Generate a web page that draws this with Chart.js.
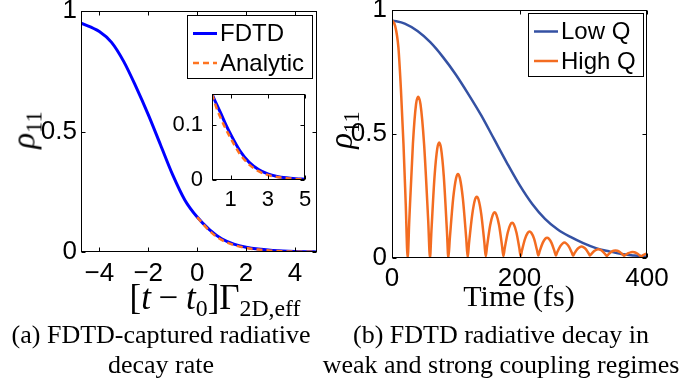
<!DOCTYPE html>
<html lang="en">
<head>
<meta charset="UTF-8">
<title>rho11 decay</title>
<script src="https://cdn.jsdelivr.net/npm/chart.js"></script>
<style>
  body { margin: 0; background: #fff; }
  #fig { position: relative; width: 700px; height: 386px; overflow: hidden; color: #000; font-family: 'Liberation Serif', serif; }
  canvas { position: absolute; }
  .lbl { position: absolute; white-space: nowrap; transform: translate(-50%, -50%); line-height: 1; }
  .lbl sub { font-size: 68%; vertical-align: -0.32em; line-height: 0; }
  .op { margin: 0 0.22em; }
  .rho { font-size: 33px; transform: translate(-50%, -50%) rotate(-90deg); }
  .cap { position: absolute; width: 360px; text-align: center; font-size: 26px; line-height: 30px; white-space: nowrap; }
</style>
</head>
<body>
<div id="fig">
    <canvas id="chart-a" width="330" height="290" style="left:0;top:0"></canvas>
    <canvas id="chart-b" width="370" height="290" style="left:330px;top:0"></canvas>
    <canvas id="chart-inset" width="150" height="125" style="left:165px;top:84px"></canvas>

    <div class="lbl rho" style="left:24px;top:130px"><i>ρ</i><sub>11</sub></div>
    <div class="lbl rho" style="left:341px;top:130px"><i>ρ</i><sub>11</sub></div>
    <div class="lbl" style="left:215px;top:297px;font-size:35px">[<i>t</i><span class="op">−</span><i>t</i><sub>0</sub>]Γ<sub>2D,eff</sub></div>
    <div class="lbl" style="left:519px;top:296px;font-size:30px">Time (fs)</div>

    <div class="cap" style="left:-19px;top:320px">(a) FDTD-captured radiative<br>decay rate</div>
    <div class="cap" style="left:321px;top:320px">(b) FDTD radiative decay in<br>weak and strong coupling regimes</div>
</div>

<script>
    // panel (a): normalised time vs rho11
    const xMain = [-4.75, -4, -3.5, -3, -2.5, -2, -1.5, -1, -0.5, 0, 0.5, 1, 1.5, 2, 2.5, 3, 3.5, 4, 4.5, 4.9];
    const fdtdMain = [0.95, 0.915, 0.87, 0.79, 0.685, 0.57, 0.445, 0.32, 0.215, 0.145, 0.093, 0.055, 0.033, 0.02, 0.012, 0.007, 0.004, 0.002, 0.001, 0.0005];
    const xAnalytic = [0, 0.5, 1, 1.5, 2, 2.5, 3, 3.5, 4, 4.5, 4.9];
    const analyticMain = [0.145, 0.088, 0.05, 0.029, 0.017, 0.01, 0.0055, 0.003, 0.0015, 0.0008, 0.0004];

    // inset of panel (a)
    const xInset = [0, 0.25, 0.5, 0.75, 1, 1.5, 2, 2.5, 3, 3.5, 4, 4.5, 5];
    const fdtdInset = [0.156, 0.137, 0.119, 0.1, 0.083, 0.053, 0.032, 0.019, 0.011, 0.0065, 0.004, 0.0025, 0.0015];
    const analyticInset = [0.156, 0.13, 0.11, 0.092, 0.076, 0.047, 0.028, 0.016, 0.009, 0.0055, 0.0033, 0.002, 0.0012];

    // panel (b): time in fs
    const tLow = [0, 20, 40, 60, 80, 100, 120, 140, 160, 180, 200, 220, 240, 260, 280, 300, 320, 340, 360, 380, 400];
    const lowQ = [0.958, 0.945, 0.915, 0.87, 0.81, 0.74, 0.66, 0.575, 0.48, 0.385, 0.295, 0.218, 0.158, 0.115, 0.085, 0.06, 0.04, 0.027, 0.016, 0.01, 0.005];
    const tHigh = [0, 5, 10, 14, 18, 21.5, 24.6,
        27.1, 32.8, 37.7, 41, 44.7, 50.3, 56.8, 59.6,
        61.8, 66.8, 71.1, 74, 76.9, 81.2, 86.2, 88.4,
        90.7, 96, 100.5, 103.5, 106.5, 111.1, 116.4, 118.7,
        120.8, 125.9, 130.1, 133, 135.8, 140, 144.9, 147,
        149.1, 154, 158.2, 161, 163.7, 167.9, 172.6, 174.7,
        176.8, 181.6, 185.7, 188.5, 191.2, 195.2, 199.8, 201.8,
        203.9, 208.8, 213, 215.8, 218.5, 222.7, 227.4, 229.5,
        231.6, 236.4, 240.5, 243.3, 246, 250.2, 254.9, 257,
        259, 263.8, 267.8, 270.5, 273.2, 277.3, 282, 284,
        286, 290.7, 294.6, 297.3, 300, 304, 308.6, 310.6,
        312.6, 317.2, 321.1, 323.7, 326.3, 330.3, 334.8, 336.8,
        338.9, 343.7, 347.8, 350.5, 353.2, 357.3, 362, 364,
        366, 370.8, 374.8, 377.5, 380.1, 384, 388.6, 390.6,
        393, 397, 400];
    const highQ = [0.958, 0.935, 0.85, 0.68, 0.46, 0.22, 0,
        0.15, 0.46, 0.62, 0.65, 0.62, 0.46, 0.15, 0,
        0.107, 0.331, 0.443, 0.466, 0.443, 0.331, 0.107, 0,
        0.078, 0.241, 0.322, 0.339, 0.322, 0.241, 0.08, 0.003,
        0.059, 0.176, 0.235, 0.247, 0.235, 0.177, 0.062, 0.006,
        0.047, 0.132, 0.175, 0.184, 0.175, 0.133, 0.049, 0.008,
        0.039, 0.103, 0.135, 0.142, 0.135, 0.103, 0.039, 0.008,
        0.031, 0.078, 0.102, 0.107, 0.102, 0.079, 0.032, 0.01,
        0.027, 0.061, 0.078, 0.082, 0.078, 0.061, 0.027, 0.01,
        0.022, 0.047, 0.059, 0.062, 0.059, 0.047, 0.022, 0.01,
        0.018, 0.036, 0.044, 0.046, 0.044, 0.036, 0.018, 0.01,
        0.016, 0.028, 0.034, 0.035, 0.034, 0.027, 0.014, 0.008,
        0.013, 0.024, 0.029, 0.03, 0.029, 0.024, 0.014, 0.009,
        0.012, 0.02, 0.023, 0.024, 0.023, 0.019, 0.01, 0.006,
        0.01, 0.016, 0.018];

    const xTicksA = [-4, -2, 0, 2, 4];
    const xTickLabelsA = ['−4', '−2', '0', '2', '4'];
    const yTicks = [0, 0.5, 1];
    const yTickLabels = ['0', '0.5', '1'];
    const xTicksInset = [1, 3, 5];
    const yTicksInset = [0, 0.1];
    const yTickLabelsInset = ['0', '0.1'];
    const xTicksB = [0, 200, 400];

    const pts = (xs, ys) => xs.map((x, i) => ({ x: x, y: ys[i] }));

    Chart.defaults.color = '#000';
    Chart.defaults.font.family = '"Liberation Sans", Arial, sans-serif';
    Chart.defaults.font.size = 26;

    // white plot area, box frame and inward ticks like the original
    const frame = {
        id: 'frame',
        beforeDraw(chart) {
            const a = chart.chartArea, ctx = chart.ctx;
            ctx.save();
            ctx.fillStyle = '#fff';
            ctx.fillRect(a.left, a.top, a.right - a.left, a.bottom - a.top);
            ctx.restore();
        },
        afterDraw(chart) {
            const a = chart.chartArea, ctx = chart.ctx;
            const L = Math.round(a.left) + 0.5, R = Math.round(a.right) - 0.5;
            const T = Math.round(a.top) + 0.5, B = Math.round(a.bottom) - 0.5;
            ctx.save();
            ctx.strokeStyle = '#000';
            ctx.lineWidth = 1;
            ctx.strokeRect(L, T, R - L, B - T);
            ctx.beginPath();
            chart.scales.x.ticks.forEach(t => {
                const p = Math.round(chart.scales.x.getPixelForValue(t.value)) + 0.5;
                ctx.moveTo(p, B); ctx.lineTo(p, B - 4);
                ctx.moveTo(p, T); ctx.lineTo(p, T + 4);
            });
            chart.scales.y.ticks.forEach(t => {
                const p = Math.round(chart.scales.y.getPixelForValue(t.value)) + 0.5;
                ctx.moveTo(L, p); ctx.lineTo(L + 4, p);
                ctx.moveTo(R, p); ctx.lineTo(R - 4, p);
            });
            ctx.stroke();
            ctx.restore();
        }
    };

    // boxed legend in the top right corner of the plot area
    const boxLegend = {
        id: 'boxLegend',
        afterDraw(chart, args, opts) {
            if (!opts.show) return;
            const ctx = chart.ctx, a = chart.chartArea;
            const sets = chart.data.datasets;
            ctx.save();
            ctx.font = '24px "Liberation Sans", Arial, sans-serif';
            let tw = 0;
            sets.forEach(d => { tw = Math.max(tw, ctx.measureText(d.label).width); });
            const w = Math.round(6 + 24 + 3 + tw + opts.padRight), h = 63;
            const x0 = Math.round(a.right - opts.right - w), y0 = Math.round(a.top + opts.top);
            ctx.fillStyle = '#fff';
            ctx.fillRect(x0, y0, w, h);
            ctx.strokeStyle = '#000';
            ctx.lineWidth = 1;
            ctx.strokeRect(x0 + 0.5, y0 + 0.5, w, h);
            sets.forEach((d, i) => {
                const cy = y0 + 18.5 + i * 29.5;
                ctx.beginPath();
                ctx.setLineDash(d.borderDash || []);
                ctx.strokeStyle = d.borderColor;
                ctx.lineWidth = d.borderWidth;
                ctx.moveTo(x0 + 6, cy);
                ctx.lineTo(x0 + 30, cy);
                ctx.stroke();
                ctx.setLineDash([]);
                ctx.fillStyle = '#000';
                ctx.textBaseline = 'middle';
                ctx.fillText(d.label, x0 + 33, cy + 1);
            });
            ctx.restore();
        }
    };

    function axisX(min, max, ticks, labels, height, pad, size) {
        return {
            type: 'linear', min: min, max: max,
            grid: { display: false, drawTicks: false }, border: { display: false },
            afterBuildTicks: s => { s.ticks = ticks.map(v => ({ value: v })); },
            afterFit: s => { s.height = height; s.paddingLeft = 0; s.paddingRight = 0; },
            ticks: { padding: pad, maxRotation: 0, autoSkip: false, font: { size: size },
                callback: (v) => labels ? labels[ticks.indexOf(v)] : String(v) }
        };
    }
    function axisY(min, max, ticks, labels, width, pad, size) {
        return {
            type: 'linear', min: min, max: max,
            grid: { display: false, drawTicks: false }, border: { display: false },
            afterBuildTicks: s => { s.ticks = ticks.map(v => ({ value: v })); },
            afterFit: s => { s.width = width; s.paddingTop = 0; s.paddingBottom = 0; },
            ticks: { padding: pad, autoSkip: false, font: { size: size },
                callback: (v) => labels[ticks.indexOf(v)] }
        };
    }

    const common = {
        responsive: false,
        animation: false,
        devicePixelRatio: 1,
        elements: { point: { radius: 0 }, line: { cubicInterpolationMode: 'monotone' } },
        plugins: { legend: { display: false }, tooltip: { enabled: false } }
    };

    new Chart(document.getElementById('chart-a'), {
        type: 'line',
        data: {
            datasets: [{
                label: 'FDTD',
                data: pts(xMain, fdtdMain),
                borderColor: '#0000ff',
                borderWidth: 3,
                order: 2
            }, {
                label: 'Analytic',
                data: pts(xAnalytic, analyticMain),
                borderColor: '#ff7420',
                borderWidth: 2.5,
                borderDash: [6, 4],
                order: 1
            }]
        },
        options: {
            ...common,
            layout: { padding: { top: 11, right: 13, left: 0, bottom: 0 } },
            scales: {
                x: axisX(-4.75, 4.9, xTicksA, xTickLabelsA, 38, 6, 26),
                y: axisY(0, 1, yTicks, yTickLabels, 81, 4, 26)
            },
            plugins: { ...common.plugins, boxLegend: { show: true, right: 5, top: 4, padRight: 8 } }
        },
        plugins: [frame, boxLegend]
    });

    new Chart(document.getElementById('chart-inset'), {
        type: 'line',
        data: {
            datasets: [{
                label: 'FDTD',
                data: pts(xInset, fdtdInset),
                borderColor: '#0000ff',
                borderWidth: 3,
                order: 2
            }, {
                label: 'Analytic',
                data: pts(xInset, analyticInset),
                borderColor: '#ff7420',
                borderWidth: 2.5,
                borderDash: [6, 4],
                order: 1
            }]
        },
        options: {
            ...common,
            layout: { padding: { top: 10, right: 10, left: 0, bottom: 0 } },
            scales: {
                x: axisX(0, 5, xTicksInset, null, 29, 7, 22),
                y: axisY(0, 0.156, yTicksInset, yTickLabelsInset, 47, 9, 22)
            },
            plugins: { ...common.plugins, boxLegend: { show: false } }
        },
        plugins: [frame, boxLegend]
    });

    new Chart(document.getElementById('chart-b'), {
        type: 'line',
        data: {
            datasets: [{
                label: 'Low Q',
                data: pts(tLow, lowQ),
                borderColor: '#3451a3',
                borderWidth: 2.5,
                order: 2
            }, {
                label: 'High Q',
                data: pts(tHigh, highQ),
                borderColor: '#f36c21',
                borderWidth: 2.5,
                order: 1
            }]
        },
        options: {
            ...common,
            layout: { padding: { top: 10, right: 53, left: 0, bottom: 0 } },
            scales: {
                x: axisX(0, 400, xTicksB, null, 32, 5, 26),
                y: axisY(0, 1, yTicks, yTickLabels, 62, 5, 26)
            },
            plugins: { ...common.plugins, boxLegend: { show: true, right: 4, top: 3, padRight: 7 } }
        },
        plugins: [frame, boxLegend]
    });
</script>
</body>
</html>
